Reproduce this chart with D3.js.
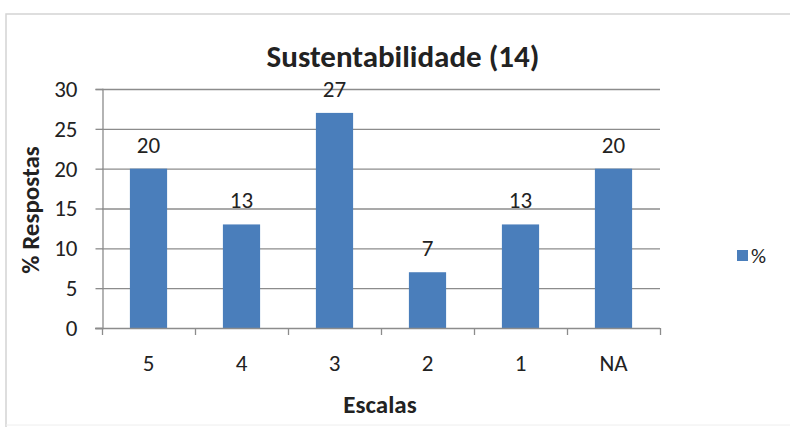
<!DOCTYPE html>
<html><head><meta charset="utf-8">
<script src="https://cdn.jsdelivr.net/npm/d3@7"></script>
<style>body{margin:0;background:#fff}svg{display:block}text{font-family:Carlito,Lato,"Open Sans",sans-serif;fill:#222}</style>
</head><body><svg id="c" width="790" height="427"></svg>
<script>
const categories = ["5","4","3","2","1","NA"];
const values = [20,13,27,7,13,20];
const yTicks = [0,5,10,15,20,25,30];
const seriesName = "%";

const FONT='Carlito,Lato,"Open Sans",sans-serif';
const svg = d3.select("#c");
// outer frame
svg.append("path").attr("d","M6,427V14H790").attr("fill","none").attr("stroke","#d4d4d4").attr("stroke-width",1.5);
svg.append("line").attr("x1",6).attr("x2",790).attr("y1",425).attr("y2",425).attr("stroke","#eeeeee");

const x0=102,x1=660,y0=328,y1=89;
const x=d3.scaleBand().domain(categories).range([x0,x1]).paddingInner(0.6).paddingOuter(0.3);
const y=d3.scaleLinear().domain([0,30]).range([y0,y1]);

// gridlines
svg.append("g").selectAll("line").data(yTicks.filter(d=>d>0)).join("line")
 .attr("x1",x0).attr("x2",x1).attr("y1",d=>y(d)+.5).attr("y2",d=>y(d)+.5)
 .attr("stroke","#8c8c8c").attr("stroke-width",1.3);

// y axis
const ya=svg.append("g").attr("transform",`translate(${x0+0.5},0)`).call(d3.axisLeft(y).tickValues(yTicks).tickSize(7).tickPadding(18));
ya.select(".domain").attr("stroke","#8c8c8c").attr("stroke-width",1.3);
ya.selectAll(".tick line").attr("stroke","#8c8c8c").attr("stroke-width",1.3);
ya.selectAll("text").attr("font-size",23).attr("fill","#222").style("font-family",FONT);

// bars
svg.append("g").selectAll("rect").data(values).join("rect")
 .attr("x",(d,i)=>x(categories[i])).attr("width",x.bandwidth())
 .attr("y",d=>y(d)).attr("height",d=>y0-y(d)).attr("fill","#4a7ebb");

// x axis
const xa=svg.append("g").attr("transform",`translate(0,${y0+0.5})`).call(d3.axisBottom(x).tickSize(0).tickPadding(26));
xa.select(".domain").attr("stroke","#8c8c8c").attr("stroke-width",1.3).attr("d",`M${x0-7},0H${x1}`);
xa.selectAll("text").attr("font-size",23).attr("fill","#222").style("font-family",FONT);
svg.append("g").selectAll("line").data(d3.range(categories.length+1)).join("line")
 .attr("x1",i=>x0+0.5+i*(x1-x0)/categories.length).attr("x2",i=>x0+0.5+i*(x1-x0)/categories.length)
 .attr("y1",y0).attr("y2",y0+7).attr("stroke","#8c8c8c").attr("stroke-width",1.3);

// data labels
svg.append("g").selectAll("text").data(values).join("text")
 .attr("x",(d,i)=>x(categories[i])+x.bandwidth()/2).attr("y",d=>y(d)-16)
 .attr("text-anchor","middle").attr("font-size",23).text(d=>d);

// title
svg.append("text").attr("x",403).attr("y",67).attr("text-anchor","middle").attr("font-size",31).attr("font-weight","bold").text("Sustentabilidade (14)");
// axis titles
svg.append("text").attr("transform","translate(39,210) rotate(-90)").attr("text-anchor","middle").attr("font-size",25).attr("font-weight","bold").text("% Respostas");
svg.append("text").attr("x",380).attr("y",413).attr("text-anchor","middle").attr("font-size",25).attr("font-weight","bold").text("Escalas");

// legend
svg.append("rect").attr("x",737).attr("y",250).attr("width",11).attr("height",11).attr("fill","#4a7ebb");
svg.append("text").attr("x",751).attr("y",263).attr("font-size",21).text(seriesName);
</script></body></html>
